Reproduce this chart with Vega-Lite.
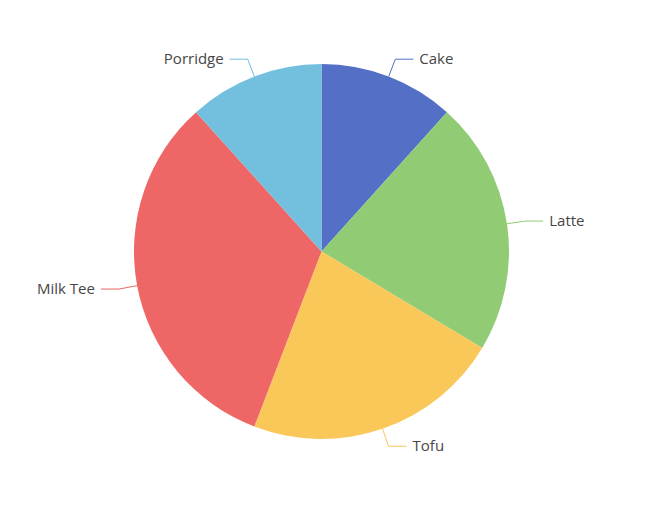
{
  "$schema": "https://vega.github.io/schema/vega-lite/v6.json",
  "width": 643,
  "height": 503,
  "autosize": {"type": "none"},
  "padding": {"left": 0, "top": 0, "right": 12, "bottom": 8},
  "background": "white",
  "config": {"view": {"stroke": null}},
  "data": {
    "values": [
      {"name": "Cake", "value": 42},
      {"name": "Latte", "value": 79},
      {"name": "Tofu", "value": 80},
      {"name": "Milk Tee", "value": 117},
      {"name": "Porridge", "value": 42}
    ]
  },
  "transform": [
    {"window": [{"op": "sum", "field": "value", "as": "cum"}, {"op": "row_number", "as": "idx"}], "frame": [null, 0]},
    {"joinaggregate": [{"op": "sum", "field": "value", "as": "total"}]},
    {"calculate": "(datum.cum - datum.value / 2) / datum.total * 2 * PI", "as": "mid"},
    {"calculate": "sin(datum.mid) >= 0 ? 1 : -1", "as": "side"},
    {"calculate": "187.5 * sin(datum.mid)", "as": "x0"},
    {"calculate": "187.5 * cos(datum.mid)", "as": "y0"},
    {"calculate": "206 * sin(datum.mid)", "as": "x1"},
    {"calculate": "206 * cos(datum.mid)", "as": "y1"},
    {"calculate": "datum.x1 + datum.side * 18", "as": "x2"},
    {"calculate": "datum.x2 + datum.side * 6", "as": "xt"}
  ],
  "layer": [
    {
      "mark": {"type": "arc", "outerRadius": 187.5},
      "encoding": {
        "theta": {"field": "value", "type": "quantitative", "stack": true},
        "order": {"field": "idx", "type": "quantitative"},
        "color": {
          "field": "name", "type": "nominal",
          "scale": {"domain": ["Cake", "Latte", "Tofu", "Milk Tee", "Porridge"], "range": ["#5470c6", "#91cc75", "#fac858", "#ee6666", "#73c0de"]},
          "legend": null
        }
      }
    },
    {
      "mark": {"type": "rule", "strokeWidth": 1},
      "encoding": {
        "x": {"field": "x0", "type": "quantitative", "scale": {"domain": [-321.5, 321.5], "nice": false, "zero": false}, "axis": null},
        "y": {"field": "y0", "type": "quantitative", "scale": {"domain": [-251.5, 251.5], "nice": false, "zero": false}, "axis": null},
        "x2": {"field": "x1"},
        "y2": {"field": "y1"},
        "color": {"field": "name", "type": "nominal", "legend": null}
      }
    },
    {
      "mark": {"type": "rule", "strokeWidth": 1},
      "encoding": {
        "x": {"field": "x1", "type": "quantitative", "scale": {"domain": [-321.5, 321.5], "nice": false, "zero": false}, "axis": null},
        "y": {"field": "y1", "type": "quantitative", "scale": {"domain": [-251.5, 251.5], "nice": false, "zero": false}, "axis": null},
        "x2": {"field": "x2"},
        "color": {"field": "name", "type": "nominal", "legend": null}
      }
    },
    {
      "transform": [{"filter": "datum.side > 0"}],
      "mark": {"type": "text", "align": "left", "baseline": "middle", "font": "Open Sans", "fontSize": 15, "color": "#464646"},
      "encoding": {
        "x": {"field": "xt", "type": "quantitative", "scale": {"domain": [-321.5, 321.5], "nice": false, "zero": false}, "axis": null},
        "y": {"field": "y1", "type": "quantitative", "scale": {"domain": [-251.5, 251.5], "nice": false, "zero": false}, "axis": null},
        "text": {"field": "name"}
      }
    },
    {
      "transform": [{"filter": "datum.side < 0"}],
      "mark": {"type": "text", "align": "right", "baseline": "middle", "font": "Open Sans", "fontSize": 15, "color": "#464646"},
      "encoding": {
        "x": {"field": "xt", "type": "quantitative", "scale": {"domain": [-321.5, 321.5], "nice": false, "zero": false}, "axis": null},
        "y": {"field": "y1", "type": "quantitative", "scale": {"domain": [-251.5, 251.5], "nice": false, "zero": false}, "axis": null},
        "text": {"field": "name"}
      }
    }
  ]
}
